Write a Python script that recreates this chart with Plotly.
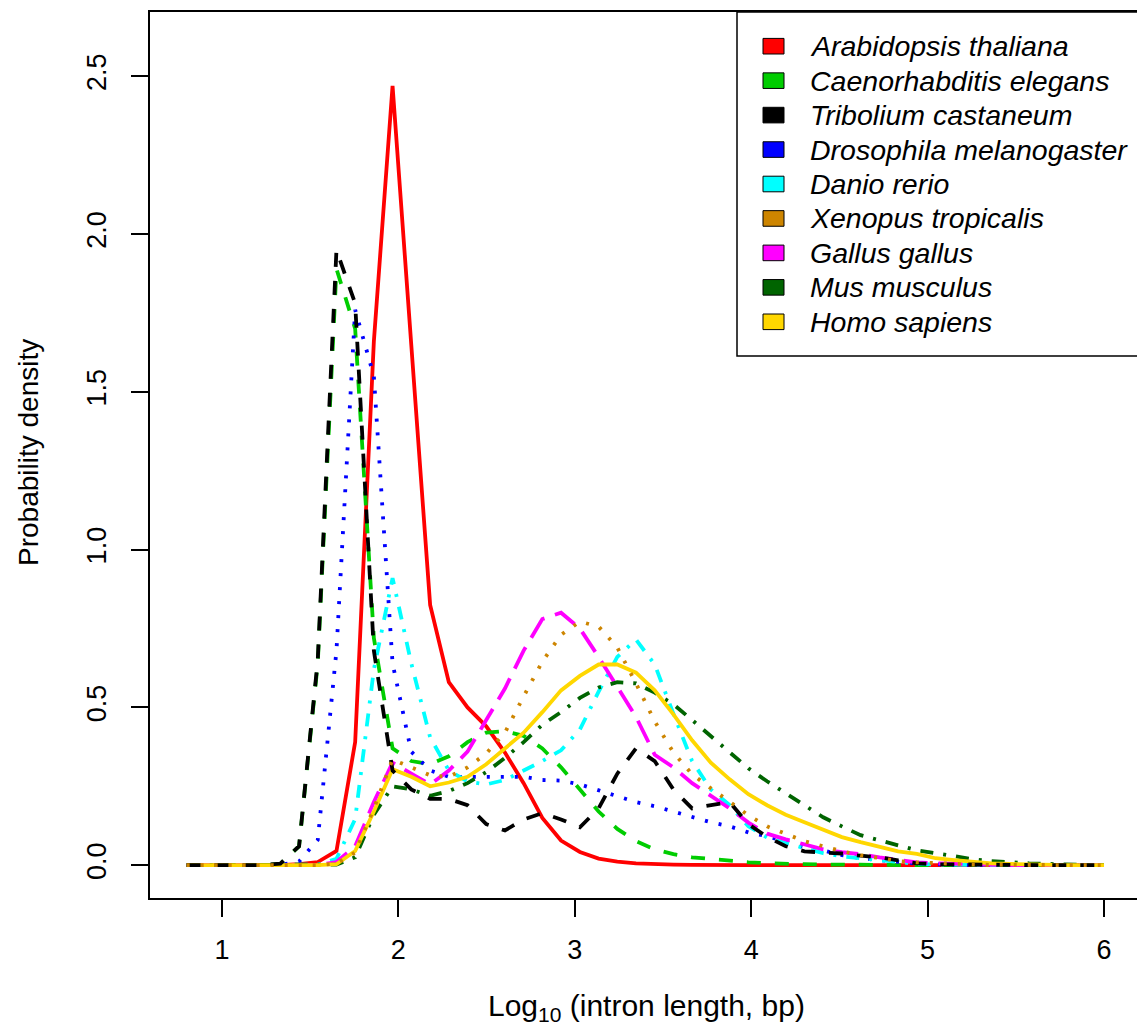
import plotly.graph_objects as go

# log10 intron length grid (50 evaluation points, 0.8 .. 6.0)
log_len = [0.800, 0.906, 1.012, 1.118, 1.224, 1.331, 1.437, 1.543, 1.649, 1.755,
           1.861, 1.967, 2.073, 2.180, 2.286, 2.392, 2.498, 2.604, 2.710, 2.816,
           2.922, 3.029, 3.135, 3.241, 3.347, 3.453, 3.559, 3.665, 3.771, 3.878,
           3.984, 4.090, 4.196, 4.302, 4.408, 4.514, 4.620, 4.727, 4.833, 4.939,
           5.045, 5.151, 5.257, 5.363, 5.469, 5.576, 5.682, 5.788, 5.894, 6.000]

# probability density of log10 intron length per species
arabidopsis = [0, 0, 0, 0, 0, 0, 0.003, 0.010, 0.045, 0.39,
               1.66, 2.47, 1.65, 0.825, 0.58, 0.50, 0.44, 0.357, 0.26, 0.15,
               0.078, 0.042, 0.021, 0.011, 0.006, 0.003, 0.002, 0.001, 0, 0,
               0, 0, 0, 0, 0, 0, 0, 0, 0, 0,
               0, 0, 0, 0, 0, 0, 0, 0, 0, 0]
caenorhabditis = [0, 0, 0, 0, 0, 0.004, 0.06, 0.64, 1.89, 1.70,
                  0.72, 0.37, 0.33, 0.32, 0.345, 0.39, 0.42, 0.425, 0.41, 0.37,
                  0.31, 0.24, 0.17, 0.115, 0.076, 0.05, 0.035, 0.025, 0.019, 0.013,
                  0.009, 0.006, 0.004, 0.003, 0.002, 0.002, 0.001, 0.001, 0, 0,
                  0, 0, 0, 0, 0, 0, 0, 0, 0, 0]
tribolium = [0, 0, 0, 0, 0, 0.005, 0.06, 0.65, 1.95, 1.78,
             0.68, 0.30, 0.24, 0.21, 0.21, 0.19, 0.13, 0.11, 0.145, 0.165,
             0.145, 0.12, 0.18, 0.29, 0.37, 0.33, 0.24, 0.18, 0.19, 0.20,
             0.13, 0.09, 0.06, 0.044, 0.04, 0.037, 0.03, 0.025, 0.015, 0.006,
             0.003, 0.002, 0.001, 0, 0, 0, 0, 0, 0, 0]
drosophila = [0, 0, 0, 0, 0, 0.001, 0.012, 0.08, 0.68, 1.76,
              1.55, 0.64, 0.36, 0.30, 0.28, 0.28, 0.28, 0.28, 0.28, 0.27,
              0.268, 0.256, 0.237, 0.218, 0.20, 0.187, 0.17, 0.152, 0.136, 0.123,
              0.104, 0.092, 0.076, 0.057, 0.047, 0.032, 0.022, 0.016, 0.010, 0.005,
              0.003, 0.001, 0, 0, 0, 0, 0, 0, 0, 0]
danio = [0, 0, 0, 0, 0, 0, 0, 0.002, 0.02, 0.146,
         0.62, 0.91, 0.64, 0.405, 0.30, 0.265, 0.256, 0.27, 0.30, 0.33,
         0.364, 0.43, 0.55, 0.66, 0.715, 0.636, 0.48, 0.33, 0.24, 0.19,
         0.123, 0.088, 0.07, 0.054, 0.038, 0.028, 0.022, 0.013, 0.009, 0.004,
         0.002, 0.001, 0, 0, 0, 0, 0, 0, 0, 0]
xenopus = [0, 0, 0, 0, 0, 0, 0, 0, 0.005, 0.04,
           0.18, 0.335, 0.31, 0.285, 0.28, 0.31, 0.354, 0.42, 0.535, 0.645,
           0.73, 0.772, 0.756, 0.69, 0.576, 0.456, 0.357, 0.288, 0.244, 0.20,
           0.158, 0.123, 0.098, 0.076, 0.06, 0.044, 0.032, 0.022, 0.013, 0.009,
           0.006, 0.004, 0.002, 0.001, 0.001, 0, 0, 0, 0, 0]
gallus = [0, 0, 0, 0, 0, 0, 0, 0, 0.01, 0.06,
          0.20, 0.325, 0.29, 0.256, 0.30, 0.36, 0.46, 0.56, 0.68, 0.78,
          0.80, 0.75, 0.66, 0.563, 0.47, 0.35, 0.31, 0.26, 0.22, 0.18,
          0.135, 0.10, 0.082, 0.066, 0.05, 0.041, 0.035, 0.025, 0.016, 0.009,
          0.006, 0.004, 0.002, 0.001, 0, 0, 0, 0, 0, 0]
mus = [0, 0, 0, 0, 0, 0, 0, 0, 0.002, 0.025,
       0.16, 0.25, 0.24, 0.22, 0.235, 0.26, 0.295, 0.34, 0.39, 0.445,
       0.485, 0.53, 0.563, 0.58, 0.576, 0.547, 0.51, 0.46, 0.41, 0.36,
       0.307, 0.266, 0.228, 0.19, 0.152, 0.123, 0.095, 0.079, 0.063, 0.047,
       0.038, 0.028, 0.019, 0.013, 0.009, 0.006, 0.004, 0.002, 0.001, 0]
homo = [0, 0, 0, 0, 0, 0, 0, 0, 0.003, 0.045,
        0.17, 0.304, 0.28, 0.25, 0.262, 0.28, 0.32, 0.37, 0.42, 0.485,
        0.554, 0.60, 0.636, 0.636, 0.61, 0.554, 0.478, 0.396, 0.325, 0.272,
        0.225, 0.19, 0.16, 0.136, 0.114, 0.089, 0.073, 0.057, 0.044, 0.036,
        0.022, 0.016, 0.010, 0.006, 0.004, 0.002, 0.001, 0, 0, 0]

species = ["Arabidopsis thaliana", "Caenorhabditis elegans", "Tribolium castaneum",
           "Drosophila melanogaster", "Danio rerio", "Xenopus tropicalis",
           "Gallus gallus", "Mus musculus", "Homo sapiens"]
densities = [arabidopsis, caenorhabditis, tribolium, drosophila, danio,
             xenopus, gallus, mus, homo]
colors = ["#FF0000", "#00CD00", "#000000", "#0000FF", "#00FFFF",
          "#CD8500", "#FF00FF", "#006400", "#FFD700"]
dashes = ["solid", "14px,14px", "14px,14px", "3px,11px", "13px,10px,3px,10px",
          "3px,11px", "24px,11px", "13px,10px,3px,10px", "solid"]
# drawing order of the curves (later ones on top)
draw_order = [0, 1, 3, 4, 6, 7, 8, 2, 5]

y_ticks = [0.0, 0.5, 1.0, 1.5, 2.0, 2.5]
x_ticks = [1, 2, 3, 4, 5, 6]

W, H = 1137, 1031
ML, MR, MT, MB = 150, 0, 12, 133
FONT = "Liberation Sans, Arial, Helvetica, sans-serif"


def fx(px):
    return (px - ML) / (W - ML - MR)


def fy(py):
    return (H - MB - py) / (H - MT - MB)


fig = go.Figure()
for i in draw_order:
    fig.add_trace(go.Scatter(
        x=log_len, y=densities[i], mode="lines", name=species[i],
        line=dict(color=colors[i], width=3.8, dash=dashes[i]),
        showlegend=False, hoverinfo="skip"))

shapes = []
annotations = []

# legend frame (runs off the right edge)
shapes.append(dict(type="rect", xref="paper", yref="paper",
                   x0=fx(737), x1=1.2, y0=fy(356), y1=fy(12),
                   line=dict(color="black", width=1.5), fillcolor="white",
                   layer="above"))
for j, name in enumerate(species):
    cy = 46.2 + j * 34.45
    shapes.append(dict(type="rect", xref="paper", yref="paper",
                       x0=fx(763), x1=fx(784), y0=fy(cy + 7.8), y1=fy(cy - 7.8),
                       line=dict(color="black", width=1), fillcolor=colors[j],
                       layer="above"))
    annotations.append(dict(text="<i>%s</i>" % name, xref="paper", yref="paper",
                            x=fx(808), y=fy(cy), xanchor="left", yanchor="middle",
                            showarrow=False,
                            font=dict(family=FONT, size=28.5, color="black")))

# axis titles
annotations.append(dict(text="Log<sub>10</sub> (intron length, bp)",
                        xref="paper", yref="paper", x=fx(646), y=fy(1008),
                        xanchor="center", yanchor="middle", showarrow=False,
                        font=dict(family=FONT, size=30, color="black")))
annotations.append(dict(text="Probability density", textangle=-90,
                        xref="paper", yref="paper", x=fx(28), y=fy(453),
                        xanchor="center", yanchor="middle", showarrow=False,
                        font=dict(family=FONT, size=28, color="black")))

fig.update_layout(
    width=W, height=H,
    margin=dict(l=ML, r=MR, t=MT, b=MB, pad=0),
    paper_bgcolor="white", plot_bgcolor="white",
    shapes=shapes, annotations=annotations,
    xaxis=dict(range=[0.592, 6.187], tickvals=x_ticks,
               ticktext=[str(v) for v in x_ticks],
               showgrid=False, zeroline=False,
               showline=True, mirror=True, linecolor="black", linewidth=1.5,
               ticks="outside", ticklen=17, tickwidth=1.5, tickcolor="black",
               ticklabelstandoff=10,
               tickfont=dict(family=FONT, size=27, color="black")),
    yaxis=dict(range=[-0.104, 2.704], tickvals=y_ticks,
               ticktext=["%.1f" % v for v in y_ticks],
               tickangle=-90,
               showgrid=False, zeroline=False,
               showline=True, linecolor="black", linewidth=1.5,
               ticks="outside", ticklen=17, tickwidth=1.5, tickcolor="black",
               ticklabelstandoff=14,
               tickfont=dict(family=FONT, size=27, color="black")),
)

fig.write_html("out.html")
